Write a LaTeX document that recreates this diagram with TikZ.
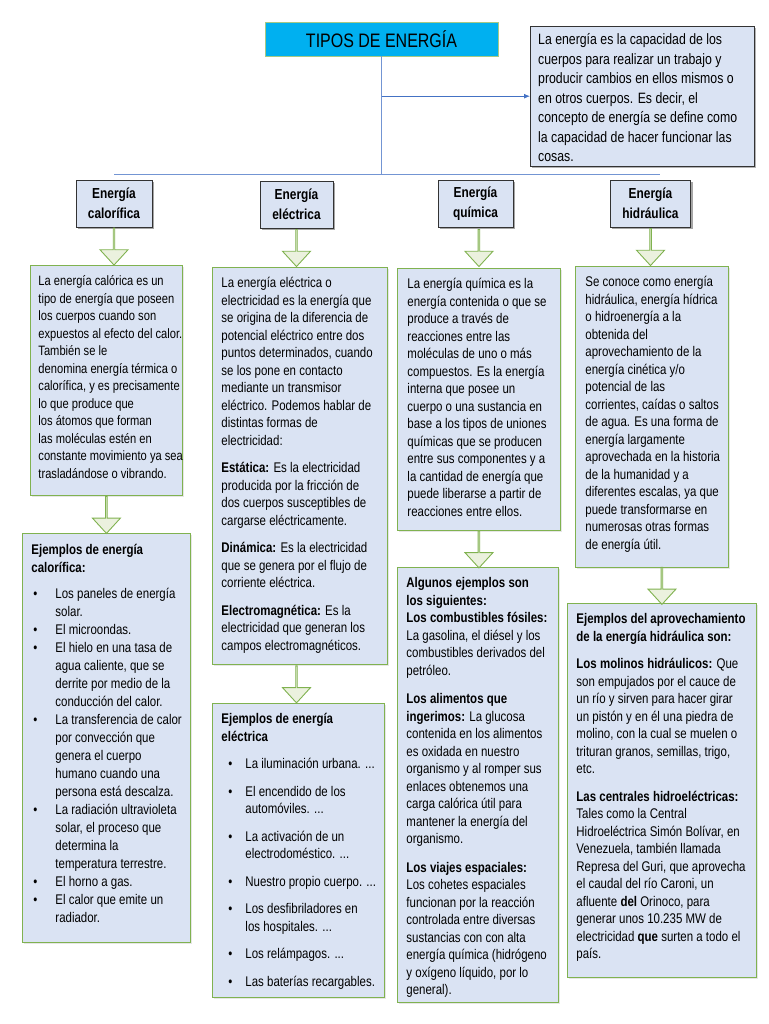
\documentclass[tikz,border=0pt]{standalone}
\usepackage{fontspec}
\setmainfont{Liberation Sans}[FakeStretch=0.82]
\usepackage{xcolor}
\usepackage{tikz}
\usetikzlibrary{arrows.meta,positioning,calc,shapes.arrows,shadows,backgrounds}

\definecolor{boxblue}{RGB}{218,227,243}
\definecolor{leafgreen}{RGB}{128,178,80}
\definecolor{arrowgreen}{RGB}{235,241,222}
\definecolor{titlecyan}{RGB}{0,176,240}
\definecolor{linkblue}{RGB}{68,114,196}

% fixed-size text block: [left pad] width, height, text
\newcommand{\boxtext}[4][9pt]{\parbox[c][#3pt][t]{#2pt}{\raggedright
  \leftskip=#1\rightskip=-15pt plus 1fil\strut #4}}
% bullet item with optional bullet offset
\newcommand{\bul}[2][2pt]{\par\hangindent=24pt\hangafter=1\noindent
  \makebox[24pt][l]{\hspace{#1}\textbullet}{\let\\\newline #2}\par}

\begin{document}
\begin{tikzpicture}[x=1pt,y=-1pt,
    >={Latex[length=6pt,width=5pt]},
    link/.style={draw=linkblue!75,line width=0.9pt},
    title/.style={draw=leafgreen!70,fill=titlecyan,minimum width=233pt,
      minimum height=34pt,font=\fontsize{19.5}{22}\selectfont},
    defbox/.style={draw=black!80,fill=boxblue,anchor=north west,
      inner xsep=0pt,inner ysep=5pt,font=\fontsize{15}{19.5}\selectfont,
      drop shadow={shadow xshift=2pt,shadow yshift=-2pt,opacity=0.6}},
    category/.style={draw=black!80,fill=boxblue,align=center,
      minimum width=73pt,minimum height=47pt,inner xsep=12pt,
      font=\bfseries\fontsize{14.5}{20}\selectfont,
      drop shadow={shadow xshift=2pt,shadow yshift=-2pt,opacity=0.7}},
    content/.style={draw=leafgreen,line width=0.9pt,fill=boxblue,
      anchor=north west,inner xsep=0pt,inner ysep=8pt,
      font=\fontsize{14}{17.5}\selectfont,
      drop shadow={shadow xshift=1.5pt,shadow yshift=-1.5pt,opacity=0.2}},
    downarrow/.style={single arrow,shape border rotate=270,draw=leafgreen,
      fill=arrowgreen,line width=0.9pt,minimum height=37pt,minimum width=28pt,
      single arrow head extend=7.5pt,single arrow tip angle=85,inner sep=0pt}
  ]
  \useasboundingbox (0,0) rectangle (768,1024);

  % top
  \node[title] (title) at (381.5,39) {TIPOS DE ENERGÍA};
  \node[defbox] (def) at (530,26) {\boxtext[8pt]{224}{130}{%
    La energía es la capacidad de los\\
    cuerpos para realizar un trabajo y\\
    producir cambios en ellos mismos o\\
    en otros cuerpos. Es decir, el\\
    concepto de energía se define como\\
    la capacidad de hacer funcionar las\\
    cosas.}};

  % categories
  \node[category] (cal) at (114,203.5) {Energía\\calorífica};
  \node[category] (ele) at (296.5,204.5) {Energía\\eléctrica};
  \node[category,minimum width=75pt] (qui) at (475.5,203.5) {Energía\\química};
  \node[category] (hid) at (650.5,203.5) {Energía\\hidráulica};

  \coordinate (bus) at ($(title.south |- cal.north)+(0,-5)$);
  \draw[link] (title.south) -- (bus);
  \draw[link] (cal.north |- bus) -- ($(hid.north |- bus)+(9,0)$);
  \draw[link,draw=linkblue,->] (title.south |- def.west) -- (def.west);

  % calorifica
  \node[content,font=\fontsize{13.6}{17.5}\selectfont] (cal1) at (30,265)
    {\boxtext[8pt]{152}{214}{%
    La energía calórica es un\\
    tipo de energía que poseen\\
    los cuerpos cuando son\\
    expuestos al efecto del calor.\\
    También se le\\
    denomina energía térmica o\\
    calorífica, y es precisamente\\
    lo que produce que\\
    los átomos que forman\\
    las moléculas estén en\\
    constante movimiento ya sea\\
    trasladándose o vibrando.}};
  \node[content,font=\fontsize{14}{18}\selectfont] (cal2) at (22,533)
    {\boxtext{168}{393}{%
    \textbf{Ejemplos de energía\\
    calorífica:}\par\vspace{8pt}
    \bul{Los paneles de energía\\solar.}
    \bul{El microondas.}
    \bul{El hielo en una tasa de\\agua caliente, que se\\derrite por medio de la\\conducción del calor.}
    \bul{La transferencia de calor\\por convección que\\genera el cuerpo\\humano cuando una\\persona está descalza.}
    \bul{La radiación ultravioleta\\solar, el proceso que\\determina la\\temperatura terrestre.}
    \bul{El horno a gas.}
    \bul{El calor que emite un\\radiador.}}};

  % electrica
  \node[content] (ele1) at (212,267) {\boxtext{175}{381}{%
    La energía eléctrica o\\
    electricidad es la energía que\\
    se origina de la diferencia de\\
    potencial eléctrico entre dos\\
    puntos determinados, cuando\\
    se los pone en contacto\\
    mediante un transmisor\\
    eléctrico. Podemos hablar de\\
    distintas formas de\\
    electricidad:\par\vspace{10pt}
    \textbf{Estática:} Es la electricidad\\
    producida por la fricción de\\
    dos cuerpos susceptibles de\\
    cargarse eléctricamente.\par\vspace{10pt}
    \textbf{Dinámica:} Es la electricidad\\
    que se genera por el flujo de\\
    corriente eléctrica.\par\vspace{10pt}
    \textbf{Electromagnética:} Es la\\
    electricidad que generan los\\
    campos electromagnéticos.}};
  \node[content] (ele2) at (212,703) {\boxtext{172}{278}{%
    \textbf{Ejemplos de energía\\
    eléctrica}\par\vspace{10pt}
    \bul[7pt]{La iluminación urbana. ...}\vspace{10pt}
    \bul[7pt]{El encendido de los\\automóviles. ...}\vspace{10pt}
    \bul[7pt]{La activación de un\\electrodoméstico. ...}\vspace{10pt}
    \bul[7pt]{Nuestro propio cuerpo. ...}\vspace{10pt}
    \bul[7pt]{Los desfibriladores en\\los hospitales. ...}\vspace{10pt}
    \bul[7pt]{Los relámpagos. ...}\vspace{10pt}
    \bul[7pt]{Las baterías recargables.}}};

  % quimica
  \node[content] (qui1) at (397,268) {\boxtext[10pt]{163}{246}{%
    La energía química es la\\
    energía contenida o que se\\
    produce a través de\\
    reacciones entre las\\
    moléculas de uno o más\\
    compuestos. Es la energía\\
    interna que posee un\\
    cuerpo o una sustancia en\\
    base a los tipos de uniones\\
    químicas que se producen\\
    entre sus componentes y a\\
    la cantidad de energía que\\
    puede liberarse a partir de\\
    reacciones entre ellos.}};
  \node[content] (qui2) at (397,567) {\boxtext{161}{419}{%
    \textbf{Algunos ejemplos son\\
    los siguientes:\\
    Los combustibles fósiles:}\\
    La gasolina, el diésel y los\\
    combustibles derivados del\\
    petróleo.\par\vspace{11pt}
    \textbf{Los alimentos que\\
    ingerimos:} La glucosa\\
    contenida en los alimentos\\
    es oxidada en nuestro\\
    organismo y al romper sus\\
    enlaces obtenemos una\\
    carga calórica útil para\\
    mantener la energía del\\
    organismo.\par\vspace{11pt}
    \textbf{Los viajes espaciales:}\\
    Los cohetes espaciales\\
    funcionan por la reacción\\
    controlada entre diversas\\
    sustancias con con alta\\
    energía química (hidrógeno\\
    y oxígeno líquido, por lo\\
    general).}};

  % hidraulica
  \node[content] (hid1) at (575,266) {\boxtext[10pt]{153}{285}{%
    Se conoce como energía\\
    hidráulica, energía hídrica\\
    o hidroenergía a la\\
    obtenida del\\
    aprovechamiento de la\\
    energía cinética y/o\\
    potencial de las\\
    corrientes, caídas o saltos\\
    de agua. Es una forma de\\
    energía largamente\\
    aprovechada en la historia\\
    de la humanidad y a\\
    diferentes escalas, ya que\\
    puede transformarse en\\
    numerosas otras formas\\
    de energía útil.}};
  \node[content] (hid2) at (567,603) {\boxtext{189}{358}{%
    \textbf{Ejemplos del aprovechamiento\\
    de la energía hidráulica son:}\par\vspace{10pt}
    \textbf{Los molinos hidráulicos:} Que\\
    son empujados por el cauce de\\
    un río y sirven para hacer girar\\
    un pistón y en él una piedra de\\
    molino, con la cual se muelen o\\
    trituran granos, semillas, trigo,\\
    etc.\par\vspace{10pt}
    \textbf{Las centrales hidroeléctricas:}\\
    Tales como la Central\\
    Hidroeléctrica Simón Bolívar, en\\
    Venezuela, también llamada\\
    Represa del Guri, que aprovecha\\
    el caudal del río Caroni, un\\
    afluente \textbf{del} Orinoco, para\\
    generar unos 10.235 MW de\\
    electricidad \textbf{que} surten a todo el\\
    país.}};

  % block arrows
  \node[downarrow] (acal) at ($(cal.south)!0.5!(cal.south |- cal1.north)$) {};
  \node[downarrow] (acal1) at ($(cal1.south)!0.5!(cal1.south |- cal2.north)$) {};
  \node[downarrow] (aele) at ($(ele.south)!0.5!(ele.south |- ele1.north)$) {};
  \node[downarrow] (aele1) at ($(ele.south |- ele1.south)!0.5!(ele.south |- ele2.north)$) {};
  \node[downarrow] (aqui) at ($(qui1.north |- qui.south)!0.5!(qui1.north)$) {};
  \node[downarrow] (aqui1) at ($(qui1.south)!0.5!(qui1.south |- qui2.north)$) {};
  \node[downarrow] (ahid) at ($(hid.south)!0.5!(hid.south |- hid1.north)$) {};
  \node[downarrow] (ahid1) at ($(hid2.north |- hid1.south)!0.5!(hid2.north)$) {};
\end{tikzpicture}
\end{document}
